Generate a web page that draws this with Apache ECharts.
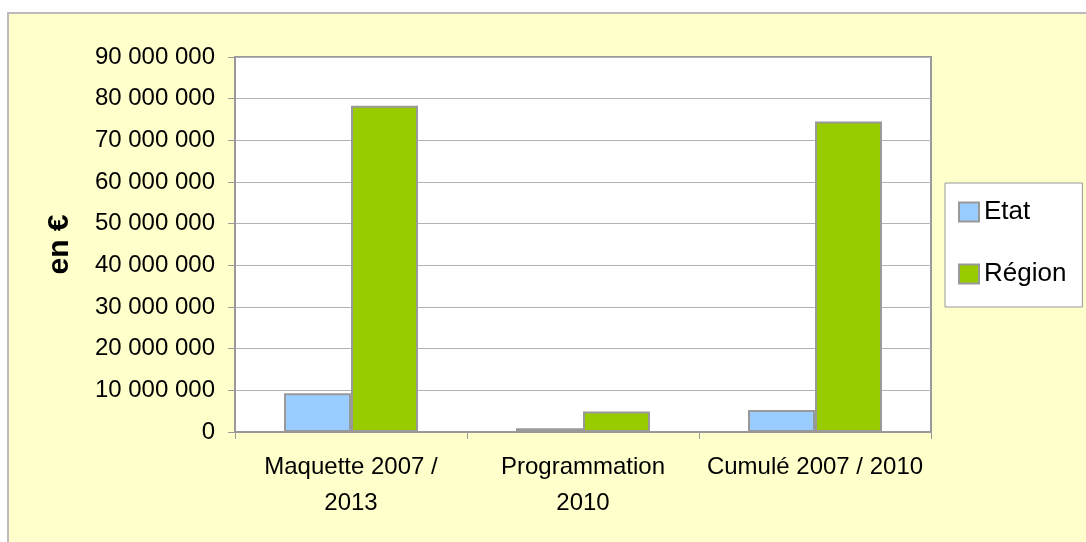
<!DOCTYPE html>
<html>
<head>
<meta charset="utf-8">
<script src="https://cdn.jsdelivr.net/npm/echarts@6/dist/echarts.min.js"></script>
<style>
    html, body { margin: 0; padding: 0; background: #fff; }
    #chart { width: 1086px; height: 542px; }
</style>
</head>
<body>
<div id="chart"></div>
<script>
// données
const categories = ['Maquette 2007 /\n2013', 'Programmation\n2010', 'Cumulé 2007 / 2010']
const etat = [9300000, 900000, 5300000]
const region = [78300000, 4900000, 74500000]
const seriesNames = ['Etat', 'Région']

const font = "'Liberation Sans', Arial, sans-serif"

// 90000000 -> "90 000 000"
const fmt = v => String(v).replace(/\B(?=(\d{3})+(?!\d))/g, ' ')

const myChart = echarts.init(document.getElementById('chart'))

const option = {
    backgroundColor: '#fff',
    animation: false,
    textStyle: { fontFamily: font },
    graphic: [
        {
            type: 'rect',
            z: -10,
            shape: { x: 8, y: 13, width: 1100, height: 560 },
            style: { fill: '#FFFFCC', stroke: '#BBBBBB', lineWidth: 2 }
        }
    ],
    grid: {
        left: 235,
        top: 57,
        right: 155,
        bottom: 110,
        show: true,
        backgroundColor: '#fff',
        borderColor: '#999',
        borderWidth: 2
    },
    legend: {
        data: seriesNames,
        orient: 'vertical',
        left: 945,
        top: 183,
        padding: [15, 16, 19, 13],
        itemGap: 34,
        itemWidth: 20,
        itemHeight: 19,
        icon: 'rect',
        backgroundColor: '#fff',
        borderColor: '#999',
        borderWidth: 1,
        borderRadius: 0,
        textStyle: { fontSize: 26, color: '#000', fontFamily: font, lineHeight: 28 }
    },
    xAxis: {
        type: 'category',
        data: categories,
        axisLine: { show: true, lineStyle: { color: '#999', width: 2 } },
        axisTick: { show: true, length: 7, lineStyle: { color: '#999', width: 1 } },
        axisLabel: {
            interval: 0,
            color: '#000',
            fontSize: 24,
            lineHeight: 36,
            margin: 17,
            fontFamily: font
        }
    },
    yAxis: {
        type: 'value',
        min: 0,
        max: 90000000,
        interval: 10000000,
        name: 'en €',
        nameLocation: 'middle',
        nameRotate: 90,
        nameGap: 160,
        nameTextStyle: { fontSize: 30, fontWeight: 'bold', color: '#000', fontFamily: font },
        axisLine: { show: true, lineStyle: { color: '#999', width: 2 } },
        axisTick: { show: true, length: 7, lineStyle: { color: '#999', width: 1 } },
        axisLabel: {
            color: '#000',
            fontSize: 24,
            margin: 20,
            fontFamily: font,
            formatter: fmt
        },
        splitLine: { show: true, lineStyle: { color: '#B3B3B3', width: 1 } }
    },
    series: [
        {
            name: seriesNames[0],
            type: 'bar',
            data: etat,
            barWidth: 67,
            barGap: '0%',
            itemStyle: { color: '#99CCFF', borderColor: '#999', borderWidth: 2 }
        },
        {
            name: seriesNames[1],
            type: 'bar',
            data: region,
            barWidth: 67,
            barGap: '0%',
            itemStyle: { color: '#99CC00', borderColor: '#999', borderWidth: 2 }
        }
    ]
}

myChart.setOption(option)
</script>
</body>
</html>
